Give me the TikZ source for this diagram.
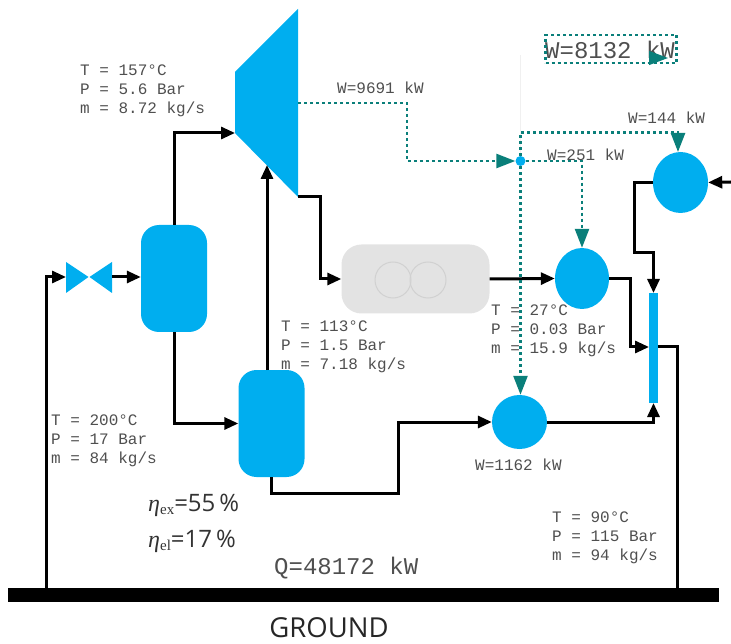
\documentclass[tikz,border=0pt]{standalone}
\usepackage{fontspec}
\setmainfont{Liberation Serif}
\setsansfont{Open Sans}
\setmonofont{Liberation Mono}
\usetikzlibrary{arrows.meta,shapes.geometric,calc}
\definecolor{unitblue}{HTML}{00AEEF}
\definecolor{workteal}{HTML}{0A7F7A}
\definecolor{labelgray}{HTML}{4F4F4F}
\tikzset{
  x=1pt,y=-1pt,
  pipe/.style={draw=black,line width=3pt,line join=miter,-{Triangle[length=14pt,width=12pt]}},
  pipeplain/.style={draw=black,line width=3pt,line join=miter},
  work/.style={draw=workteal,line width=2.5pt,dash pattern=on 3pt off 3pt,-{Triangle[length=19pt,width=14pt]}},
  tank/.style={draw=none,fill=unitblue,rounded corners=18pt,minimum width=66pt,minimum height=107pt,inner sep=0pt},
  pump/.style={draw=none,fill=unitblue,ellipse,inner sep=0pt},
  lbl/.style={text=labelgray,font=\ttfamily\fontsize{16}{19}\selectfont,align=left,inner sep=0pt,anchor=west},
  effic/.style={anchor=west,inner sep=0pt,font=\sffamily\fontsize{24}{26}\selectfont,text=black!80},
}
\newcommand{\effsub}[1]{\raisebox{-3pt}{\rmfamily\fontsize{15}{15}\selectfont #1}}
\begin{document}
\begin{tikzpicture}
\useasboundingbox (0,0) rectangle (731,644);
% ground
\node[fill=black,minimum width=711pt,minimum height=14pt,inner sep=0pt] (ground) at (363.5,595) {};
\node[font=\sffamily\fontsize{27.5}{29}\selectfont,text=black!85,inner sep=0pt] (groundlabel) at (329,627.5) {GROUND};
% labels below the connectors
\node[lbl] (l157) at (80,90.5) {T = 157°C\\P = 5.6 Bar\\m = 8.72 kg/s};
\node[lbl] (l113) at (281,346.5) {T = 113°C\\P = 1.5 Bar\\m = 7.18 kg/s};
\node[lbl] (l200) at (51,441) {T = 200°C\\P = 17 Bar\\m = 84 kg/s};
\node[lbl] (l27) at (491,331) {T = 27°C\\P = 0.03 Bar\\m = 15.9 kg/s};
\node[lbl] (l90) at (552,537.5) {T = 90°C\\P = 115 Bar\\m = 94 kg/s};
\node[lbl] (w9691) at (337,88) {W=9691 kW};
\node[lbl] (w144) at (628,118) {W=144 kW};
\node[lbl] (w251) at (547,155) {W=251 kW};
\node[lbl] (w1162) at (475,465) {W=1162 kW};
\node[lbl,font=\ttfamily\fontsize{24}{26}\selectfont] (w8132) at (545,50) {W=8132 kW};
\node[lbl,font=\ttfamily\fontsize{24}{26}\selectfont] (q) at (274,568) {Q=48172 kW};
\node[effic] (etaex) at (148,505) {{\rmfamily\itshape η}\effsub{ex}=55\,\%};
\node[effic] (etael) at (148,541) {{\rmfamily\itshape η}\effsub{el}=17\,\%};
% turbine
\coordinate (tTop) at (298,9);
\coordinate (tUL) at (235,72);
\coordinate (tLL) at (235,133);
\coordinate (tBot) at (298,197);
\coordinate (tShaft) at (298,103);
\coordinate (tIn) at (267,165);
\fill[unitblue] (tTop) -- (tUL) -- (tLL) -- (tBot) -- cycle;
% valve
\coordinate (vL) at (66,277);
\coordinate (vR) at (112,277);
\fill[unitblue] (66,262) -- (88.5,277) -- (66,293) -- cycle;
\fill[unitblue] (112,262) -- (89.5,277) -- (112,293) -- cycle;
% units
\node[tank] (tank1) at (174,278.5) {};
\node[tank] (tank2) at (271.5,423.5) {};
\node[fill=black!11,rounded corners=20pt,minimum width=148pt,minimum height=69pt,inner sep=0pt] (gen) at (415.5,279) {};
\node[circle,draw=black!18,line width=1pt,minimum size=36pt,inner sep=0pt] (gc1) at (393,280) {};
\node[circle,draw=black!18,line width=1pt,minimum size=36pt,inner sep=0pt] (gc2) at (428,280) {};
\node[pump,minimum width=55pt,minimum height=61pt] (pump1) at (680.5,182.5) {};
\node[pump,minimum width=54pt,minimum height=61pt] (pump2) at (582,278.5) {};
\node[pump,minimum width=55pt,minimum height=54pt] (pump3) at (519.5,422) {};
\node[fill=unitblue,minimum width=9pt,minimum height=110pt,inner sep=0pt] (bar) at (653.5,348) {};
\node[circle,fill=unitblue,minimum size=10pt,inner sep=0pt] (hub) at (520.5,161) {};
% output box
\node[draw=workteal,line width=2.5pt,dash pattern=on 3pt off 3pt,minimum width=131pt,minimum height=28pt,inner sep=0pt] (box) at (611,49) {};
\coordinate (boxA) at (649,58);
\coordinate (boxB) at (668,58);
\draw[draw=workteal,line width=1pt,-{Triangle[length=19pt,width=14pt]}] (boxA) -- (boxB);
\coordinate (fade) at (520.5,55);
\draw[black!6,line width=1pt] (fade) -- (hub);
% process pipes
\coordinate (leftfoot) at (46,588);
\coordinate (rightfoot) at (677,588);
\coordinate (tk2top) at (267,370);
\coordinate (tk2bot) at (271.5,477);
\coordinate (barR) at (658,347);
\coordinate (barL) at (649,347);
\coordinate (barBot) at (653.5,403);
\coordinate (barTop) at (653.5,293);
\draw[pipe] (leftfoot) |- (vL);
\draw[pipe] (vR) -- (vR -| tank1.west);
\draw[pipe] (tank1.north) |- (tLL);
\draw[pipe] (tank1.south) |- (tank2.west);
\draw[pipe] (tk2top) -- (tIn);
\draw[pipe] (tBot) -- ++(22,0) |- (gen.west);
\draw[pipe] (gen.east) -- (pump2.west);
\draw[pipe] (pump2.east) -- ++(21,0) |- (barL);
\draw[pipe] (tk2bot) |- (398,493) |- (pump3.west);
\draw[pipe] (pump3.east) -| (barBot);
\draw[pipe] (731,182) -- (pump1.east);
\draw[pipe] (pump1.west) -- (634,182.5) |- (653.5,253) -- (barTop);
\draw[pipeplain] (barR) -| (rightfoot);
% work lines
\draw[work] (tShaft) -| (407,161) -- (hub.west);
\draw[work] (hub.north) |- (678,132.5) -- (678,152);
\draw[work] (hub.east) -| (pump2.north);
\draw[work] (hub.south) -- (hub.south |- pump3.north);
\end{tikzpicture}
\end{document}
